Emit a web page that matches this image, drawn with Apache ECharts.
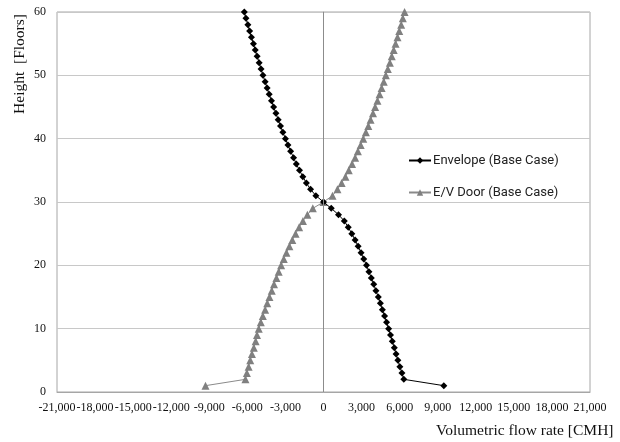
<!DOCTYPE html>
<html>
<head>
<meta charset="utf-8">
<script src="https://cdn.jsdelivr.net/npm/echarts@6/dist/echarts.min.js"></script>
<style>
  html, body { margin: 0; padding: 0; background: #fff; }
  #chart { width: 620px; height: 442px; }
</style>
</head>
<body>
<div id="chart"></div>
<script>
// Floor numbers (1 = ground level, 60 = top floor)
const floors = [
  1, 2, 3, 4, 5, 6, 7, 8, 9, 10,
  11, 12, 13, 14, 15, 16, 17, 18, 19, 20,
  21, 22, 23, 24, 25, 26, 27, 28, 29, 30,
  31, 32, 33, 34, 35, 36, 37, 38, 39, 40,
  41, 42, 43, 44, 45, 46, 47, 48, 49, 50,
  51, 52, 53, 54, 55, 56, 57, 58, 59, 60
];

// Volumetric flow rate through the building envelope, per floor [CMH]
const envelopeFlow = [
  9480, 6330, 6180, 6020, 5860, 5720, 5580, 5420, 5280, 5130,
  4970, 4810, 4640, 4480, 4320, 4130, 3960, 3770, 3580, 3390,
  3170, 2960, 2730, 2490, 2230, 1950, 1640, 1180, 610, 0,
  -600, -1020, -1350, -1630, -1890, -2140, -2360, -2590, -2800, -3000,
  -3200, -3390, -3570, -3750, -3930, -4100, -4280, -4440, -4600, -4770,
  -4920, -5070, -5230, -5380, -5520, -5680, -5820, -5960, -6110, -6240
];

// Volumetric flow rate through the elevator doors, per floor [CMH]
const evDoorFlow = [
  -9300, -6150, -6040, -5900, -5770, -5640, -5490, -5350, -5240, -5100,
  -4940, -4780, -4600, -4430, -4260, -4080, -3900, -3710, -3530, -3340,
  -3130, -2920, -2690, -2460, -2200, -1920, -1620, -1270, -840, 0,
  710, 1100, 1430, 1730, 1990, 2250, 2490, 2710, 2930, 3130,
  3340, 3530, 3710, 3900, 4070, 4250, 4420, 4580, 4750, 4910,
  5070, 5230, 5380, 5530, 5680, 5830, 5970, 6120, 6250, 6390
];

const seriesNames = ['Envelope (Base Case)', 'E/V Door (Base Case)'];
const xTitle = 'Volumetric flow rate [CMH]';
const yTitle = 'Height  [Floors]';

const serif = '"Liberation Serif", "Times New Roman", serif';
const sans = 'Roboto, "Liberation Sans", sans-serif';

function pairs(values) {
  return values.map((v, i) => [v, floors[i]]);
}

const chart = echarts.init(document.getElementById('chart'), null, { renderer: 'canvas' });

chart.setOption({
  animation: false,
  backgroundColor: '#ffffff',
  grid: {
    left: 57, right: 30, top: 12, bottom: 50,
    show: true, borderColor: '#a6a6a6', borderWidth: 1, backgroundColor: 'transparent'
  },
  xAxis: {
    type: 'value',
    min: -21000, max: 21000, interval: 3000,
    axisLine: { show: true, onZero: false, lineStyle: { color: '#a6a6a6', width: 1 } },
    axisTick: { show: false },
    splitLine: { show: false },
    axisLabel: {
      color: '#111', fontFamily: serif, fontSize: 12, margin: 10,
      formatter: v => (v < 0 ? '-' : '') + Math.abs(v).toLocaleString('en-US')
    }
  },
  yAxis: {
    type: 'value',
    min: 0, max: 60, interval: 10,
    axisLine: { show: true, lineStyle: { color: '#a6a6a6', width: 1 } },
    axisTick: { show: false },
    splitLine: { show: true, lineStyle: { color: '#c8c8c8', width: 1 } },
    axisLabel: { color: '#111', fontFamily: serif, fontSize: 12, margin: 11 }
  },
  legend: {
    orient: 'vertical',
    left: 403, top: 149,
    itemWidth: 22, itemHeight: 8, itemGap: 19,
    textStyle: { color: '#222', fontFamily: sans, fontSize: 13, padding: [0, 0, 0, -3] },
    data: seriesNames
  },
  series: [
    {
      name: seriesNames[0],
      type: 'line',
      data: pairs(envelopeFlow),
      symbol: 'diamond', symbolSize: 7,
      lineStyle: { color: '#000', width: 1 },
      itemStyle: { color: '#000' },
      z: 3,
      markLine: {
        silent: true, symbol: 'none', label: { show: false },
        lineStyle: { color: '#8c8c8c', width: 1, type: 'solid' },
        data: [{ xAxis: 0 }]
      }
    },
    {
      name: seriesNames[1],
      type: 'line',
      data: pairs(evDoorFlow),
      symbol: 'triangle', symbolSize: 8,
      lineStyle: { color: '#8a8a8a', width: 1 },
      itemStyle: { color: '#808080' },
      z: 2
    }
  ],
  graphic: [
    {
      type: 'text', left: 436, top: 423,
      style: { text: xTitle, font: '15.5px ' + serif, fill: '#111' }
    },
    {
      type: 'text', x: 20, y: 64, rotation: Math.PI / 2,
      style: { text: yTitle, font: '15.5px ' + serif, fill: '#111', align: 'center', verticalAlign: 'middle' }
    }
  ]
});
</script>
</body>
</html>
